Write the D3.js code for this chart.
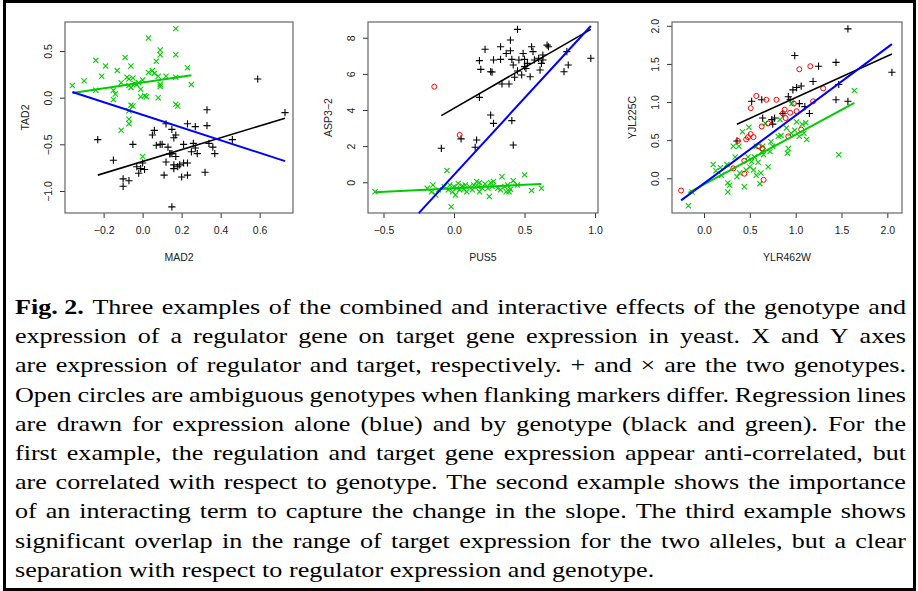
<!DOCTYPE html>
<html>
<head>
<meta charset="utf-8">
<script src="https://cdn.jsdelivr.net/npm/d3@7"></script>
<style>
  body { margin: 0; background: #fff; }
  svg { display: block; }
</style>
</head>
<body>
<svg id="fig" width="918" height="591"></svg>
<script>
// Panel 1: MAD2 vs TAD2
const p1Plus = [
  [-0.23,-0.45],[-0.15,-0.67],[-0.10,-0.95],[-0.10,-0.87],[-0.07,-0.89],[-0.05,-0.50],
  [-0.03,-0.74],[-0.02,-0.81],[-0.01,-0.76],[0.01,-0.77],[0.00,-0.70],[0.05,-0.40],
  [0.06,-0.35],[0.07,-0.51],[0.09,-0.50],[0.10,-0.50],[0.11,-0.83],[0.12,-0.69],
  [0.12,-0.28],[0.13,-0.53],[0.14,-0.60],[0.14,-0.60],[0.15,-0.60],[0.15,-0.34],
  [0.16,-0.72],[0.16,-0.76],[0.16,-0.43],[0.17,-0.40],[0.17,-0.63],[0.19,-0.72],
  [0.20,-0.85],[0.21,-0.70],[0.21,-0.50],[0.23,-0.28],[0.23,-0.83],[0.23,-0.70],
  [0.25,-0.58],[0.26,-0.49],[0.27,-0.31],[0.27,-0.54],[0.28,-0.60],[0.32,-0.80],
  [0.33,-0.30],[0.33,-0.13],[0.34,-0.49],[0.36,-0.53],[0.37,-0.60],[0.46,-0.45],
  [0.59,0.20],[0.73,-0.16],[0.15,-1.17],[0.18,-0.74]
];
const p1Cross = [
  [-0.36,0.13],[-0.30,0.18],[-0.24,0.40],[-0.24,0.08],[-0.21,0.23],[-0.19,0.34],
  [-0.15,0.08],[-0.14,0.04],[-0.15,-0.02],[-0.13,0.29],[-0.11,-0.35],[-0.11,0.16],
  [-0.09,0.43],[-0.08,0.22],[-0.07,0.20],[-0.07,0.13],[-0.06,0.11],[-0.06,0.34],
  [-0.05,-0.09],[-0.06,-0.08],[-0.07,-0.14],[-0.07,-0.23],[-0.07,-0.28],[-0.05,0.21],
  [-0.04,0.15],[-0.03,0.14],[-0.02,0.16],[-0.01,0.09],[-0.01,0.01],[0.00,0.19],
  [0.01,0.02],[0.02,0.01],[0.03,0.64],[0.03,0.27],[0.05,0.29],[0.06,0.26],
  [0.07,0.39],[0.08,0.23],[0.08,0.00],[0.09,0.46],[0.09,0.51],[0.09,0.14],
  [0.09,0.12],[0.12,0.23],[0.17,0.74],[0.17,0.46],[0.17,0.22],[0.17,-0.07],
  [0.18,-0.09],[0.23,0.32],[0.25,0.14],[0.00,-0.63]
];
const p1Circle = [];
// regression lines: [x1, y1, x2, y2]
const p1Lines = {
  green: [-0.36, 0.05, 0.25, 0.24],
  blue:  [-0.36, 0.06, 0.73, -0.68],
  black: [-0.23, -0.83, 0.73, -0.22]
};
const p1XTicks = [-0.2, 0.0, 0.2, 0.4, 0.6];
const p1YTicks = [-1.0, -0.5, 0.0, 0.5];

// Panel 2: PUS5 vs ASP3-2
const p2Plus = [
  [-0.09,1.88],[0.05,2.40],[0.16,2.34],[0.15,1.94],[0.18,4.70],[0.18,6.73],
  [0.19,6.25],[0.22,7.36],[0.26,3.72],[0.26,6.12],[0.28,6.77],[0.28,3.26],
  [0.33,6.80],[0.33,7.50],[0.34,5.44],[0.37,7.13],[0.39,5.44],[0.40,7.87],
  [0.40,7.28],[0.41,3.41],[0.41,6.80],[0.42,6.49],[0.42,2.06],[0.43,5.81],
  [0.45,8.46],[0.45,6.16],[0.46,6.77],[0.48,5.94],[0.49,7.13],[0.50,6.40],
  [0.50,6.80],[0.51,6.30],[0.52,6.58],[0.54,5.84],[0.55,7.50],[0.56,7.23],
  [0.57,6.77],[0.60,6.86],[0.61,6.21],[0.62,6.58],[0.63,6.77],[0.63,7.04],
  [0.66,7.59],[0.67,7.50],[0.78,6.12],[0.80,7.23],[0.81,6.49],[0.97,6.86],
  [0.27,6.10]
];
const p2Cross = [
  [-0.56,-0.52],[-0.19,-0.33],[-0.16,-0.52],[-0.15,-0.15],[-0.13,-0.70],[-0.11,-0.42],
  [-0.07,-0.24],[-0.05,0.65],[-0.04,-0.42],[-0.03,-0.15],[-0.02,-1.35],[-0.01,-0.52],
  [0.00,-0.24],[0.01,-0.70],[0.02,-0.33],[0.03,-0.06],[0.04,-0.42],[0.06,-0.20],
  [0.07,-0.39],[0.08,-0.15],[0.09,-0.52],[0.11,-0.24],[0.13,-0.42],[0.14,-0.15],
  [0.16,0.04],[0.17,-0.24],[0.18,-0.02],[0.20,-0.33],[0.22,-0.09],[0.24,-0.33],
  [0.25,-0.79],[0.26,-0.02],[0.27,-0.24],[0.28,0.04],[0.31,-0.33],[0.33,-0.42],
  [0.34,0.31],[0.36,-0.24],[0.37,-0.52],[0.38,-0.15],[0.40,-0.39],[0.42,0.09],
  [0.45,-0.15],[0.50,0.41],[0.55,-0.46],[0.62,-0.33],[0.18,-0.52],[0.39,-0.52]
];
const p2Circle = [[-0.14,5.29],[0.04,2.62]];
const p2Lines = {
  green: [-0.56, -0.55, 0.62, -0.09],
  blue:  [-0.25, -1.71, 0.97, 8.65],
  black: [-0.09, 3.69, 0.97, 8.46]
};
const p2XTicks = [-0.5, 0.0, 0.5, 1.0];
const p2YTicks = [0, 2, 4, 6, 8];

// Panel 3: YLR462W vs YJL225C
const p3Plus = [
  [0.36,0.49],[0.52,1.01],[0.63,1.03],[0.64,0.79],[0.74,0.77],[0.75,0.71],
  [0.77,0.79],[0.86,0.85],[0.92,1.07],[0.94,1.03],[0.97,1.16],[0.99,1.61],
  [1.01,1.19],[1.04,0.98],[1.06,1.21],[1.10,0.94],[1.15,0.85],[1.19,1.27],
  [1.25,1.47],[1.44,1.52],[1.44,1.03],[1.47,1.23],[1.57,1.01],[1.57,1.96],
  [2.05,1.39]
];
const p3Cross = [
  [-0.17,-0.36],[-0.13,-0.18],[0.10,0.18],[0.13,0.10],[0.18,0.14],[0.19,0.04],
  [0.25,0.18],[0.26,-0.06],[0.26,-0.18],[0.28,-0.09],[0.32,0.42],[0.34,0.28],
  [0.36,0.02],[0.38,0.42],[0.39,0.07],[0.42,0.61],[0.44,-0.11],[0.46,0.11],
  [0.48,0.28],[0.49,0.67],[0.50,0.15],[0.52,0.22],[0.54,0.11],[0.55,0.28],
  [0.57,0.04],[0.57,0.42],[0.59,0.21],[0.61,-0.07],[0.62,0.07],[0.63,0.35],
  [0.64,0.42],[0.65,0.31],[0.67,0.72],[0.70,0.15],[0.72,0.35],[0.73,0.48],
  [0.75,0.42],[0.81,0.55],[0.83,0.77],[0.84,0.56],[0.90,0.66],[0.91,0.33],
  [0.92,0.39],[0.95,0.59],[0.96,0.98],[0.99,0.63],[1.01,0.74],[1.04,0.55],
  [1.07,0.71],[1.09,0.59],[1.11,0.73],[1.12,0.51],[1.47,0.31],[1.64,1.15]
];
const p3Circle = [
  [-0.25,-0.16],[0.32,0.13],[0.37,0.49],[0.44,0.23],[0.44,0.06],[0.46,0.51],
  [0.48,0.54],[0.51,0.58],[0.51,0.92],[0.54,0.54],[0.57,1.08],[0.59,0.42],
  [0.63,0.68],[0.64,0.39],[0.65,-0.02],[0.68,1.03],[0.70,0.72],[0.79,1.03],
  [0.86,0.85],[0.88,0.90],[0.89,0.79],[0.92,0.55],[0.94,0.86],[0.98,0.98],
  [1.01,0.88],[1.04,1.43],[1.06,0.64],[1.16,1.47],[1.19,1.01],[1.30,1.18]
];
const p3Lines = {
  green: [-0.17, -0.19, 1.64, 0.99],
  blue:  [-0.25, -0.29, 2.05, 1.76],
  black: [0.36, 0.71, 2.05, 1.63]
};
const p3XTicks = [0.0, 0.5, 1.0, 1.5, 2.0];
const p3YTicks = [0.0, 0.5, 1.0, 1.5, 2.0];

const captionLines = [
  "Three examples of the combined and interactive effects of the genotype and",
  "expression of a regulator gene on target gene expression in yeast. X and Y axes",
  "are expression of regulator and target, respectively. + and \u00d7 are the two genotypes.",
  "Open circles are ambiguous genotypes when flanking markers differ. Regression lines",
  "are drawn for expression alone (blue) and by genotype (black and green). For the",
  "first example, the regulation and target gene expression appear anti-correlated, but",
  "are correlated with respect to genotype. The second example shows the importance",
  "of an interacting term to capture the change in the slope. The third example shows",
  "significant overlap in the range of target expression for the two alleles, but a clear",
  "separation with respect to regulator expression and genotype."
];

const svg = d3.select("#fig");
svg.append("rect").attr("width", 918).attr("height", 591).attr("fill", "#fff");
svg.append("rect")
   .attr("x", 4.5).attr("y", 1.5)
   .attr("width", 910).attr("height", 588)
   .attr("fill", "none").attr("stroke", "#000").attr("stroke-width", 3);

const green = "#00cd00";
const axisFont = "Liberation Sans, Arial, sans-serif";

const panels = [
  { plus: p1Plus, cross: p1Cross, circle: p1Circle, lines: p1Lines,
    xTicks: p1XTicks, yTicks: p1YTicks, xLab: "MAD2", yLab: "TAD2",
    left: 65, right: 293, xDom: [-0.398, 0.771], yDom: [-1.236, 0.811], fmt: d3.format(".1f") },
  { plus: p2Plus, cross: p2Cross, circle: p2Circle, lines: p2Lines,
    xTicks: p2XTicks, yTicks: p2YTicks, xLab: "PUS5", yLab: "ASP3\u22122",
    left: 368, right: 598, xDom: [-0.61, 1.021], yDom: [-1.70, 8.87], fmt: d3.format("d") },
  { plus: p3Plus, cross: p3Cross, circle: p3Circle, lines: p3Lines,
    xTicks: p3XTicks, yTicks: p3YTicks, xLab: "YLR462W", yLab: "YJL225C",
    left: 672, right: 902, xDom: [-0.349, 2.16], yDom: [-0.455, 2.05], fmt: d3.format(".1f") }
];
const plotTop = 22, plotBottom = 213;

const minus = s => s.replace("-", "\u2212");

panels.forEach((p, i) => {
  const x = d3.scaleLinear().domain(p.xDom).range([p.left, p.right]);
  const y = d3.scaleLinear().domain(p.yDom).range([plotBottom, plotTop]);
  const g = svg.append("g");

  // axes
  const xAxis = d3.axisBottom(x).tickValues(p.xTicks).tickSize(5).tickPadding(9)
                  .tickFormat(d => minus(d3.format(".1f")(d)));
  const gx = g.append("g").attr("transform", `translate(0,${plotBottom})`).call(xAxis);
  const yAxis = d3.axisLeft(y).tickValues(p.yTicks).tickSize(5)
                  .tickFormat(d => minus(p.fmt(d)));
  const gy = g.append("g").attr("transform", `translate(${p.left},0)`).call(yAxis);
  gy.selectAll(".tick text")
    .attr("x", null).attr("dy", null)
    .attr("text-anchor", "middle")
    .attr("transform", "translate(-13.5,0) rotate(-90)");
  [gx, gy].forEach(a => {
    a.select(".domain").remove();
    a.selectAll(".tick line").attr("stroke", "#333");
    a.selectAll("text").attr("font-family", axisFont).attr("font-size", 10.5).attr("fill", "#222");
  });

  // box
  g.append("rect")
   .attr("x", p.left).attr("y", plotTop)
   .attr("width", p.right - p.left).attr("height", plotBottom - plotTop)
   .attr("fill", "none").attr("stroke", "#666").attr("stroke-width", 1.2);

  // labels
  g.append("text").attr("x", (p.left + p.right) / 2).attr("y", 261)
   .attr("text-anchor", "middle").attr("font-family", axisFont).attr("font-size", 10.5)
   .attr("fill", "#222").text(p.xLab);
  g.append("text")
   .attr("transform", `translate(${p.left - 36},${(plotTop + plotBottom) / 2}) rotate(-90)`)
   .attr("text-anchor", "middle").attr("font-family", axisFont).attr("font-size", 10.5)
   .attr("fill", "#222").text(p.yLab);

  // points
  const plot = g.append("g");
  plot.selectAll(".plus").data(p.plus).enter().append("path")
      .attr("d", d => {
        const cx = x(d[0]), cy = y(d[1]), r = 3.6;
        return `M${cx - r},${cy}H${cx + r}M${cx},${cy - r}V${cy + r}`;
      })
      .attr("stroke", "#000").attr("stroke-width", 1.1);
  plot.selectAll(".cross").data(p.cross).enter().append("path")
      .attr("d", d => {
        const cx = x(d[0]), cy = y(d[1]), r = 2.6;
        return `M${cx - r},${cy - r}L${cx + r},${cy + r}M${cx - r},${cy + r}L${cx + r},${cy - r}`;
      })
      .attr("stroke", green).attr("stroke-width", 1.1);
  plot.selectAll(".circ").data(p.circle).enter().append("circle")
      .attr("cx", d => x(d[0])).attr("cy", d => y(d[1])).attr("r", 2.5)
      .attr("fill", "none").attr("stroke", "#ff0000").attr("stroke-width", 1);

  // regression lines
  const lc = { green: green, blue: "#0000ff", black: "#000" };
  const lw = { green: 2, blue: 2, black: 1.6 };
  ["green", "black", "blue"].forEach(k => {
    const l = p.lines[k];
    plot.append("line")
        .attr("x1", x(l[0])).attr("y1", y(l[1]))
        .attr("x2", x(l[2])).attr("y2", y(l[3]))
        .attr("stroke", lc[k]).attr("stroke-width", lw[k]);
  });
});

// caption, justified word by word; the serif is stretched a little to get
// closer to the wide Computer Modern face of the original
const capFont = "'Liberation Serif', 'Times New Roman', serif";
const capSize = 22;
const capLeft = 15, capRight = 906, capTop = 314, capStep = 29.2;
const lastLineWidth = 663;
const cap = svg.append("g").attr("font-family", capFont).attr("font-size", capSize).attr("fill", "#000");

const measure = (txt, bold) => {
  const t = cap.append("text").attr("font-weight", bold ? "bold" : null).text(txt);
  const w = t.node().getComputedTextLength();
  t.remove();
  return w;
};
const spaceW = measure("a a") - measure("aa");
const capWords = captionLines.map((line, i) => {
  let words = line.split(" ").map(w => ({ w, bold: false }));
  if (i === 0) words = [{ w: "Fig. 2.", bold: true }].concat(words);
  words.forEach(d => { d.width = measure(d.w, d.bold); });
  return words;
});
// stretch: match last line, but keep every justified line's gaps >= 0.9 space
let sx = lastLineWidth / (d3.sum(capWords[capWords.length - 1], d => d.width) + spaceW * (capWords[capWords.length - 1].length - 1));
capWords.slice(0, -1).forEach(words => {
  const need = d3.sum(words, d => d.width) + 0.9 * spaceW * (words.length - 1);
  sx = Math.min(sx, (capRight - capLeft) / need);
});
cap.attr("transform", `translate(${capLeft},0) scale(${sx},1)`);
const boxW = (capRight - capLeft) / sx;

capWords.forEach((words, i) => {
  const total = d3.sum(words, d => d.width);
  const last = i === capWords.length - 1;
  const gap = last ? spaceW : (boxW - total) / (words.length - 1);
  let cx = 0;
  words.forEach(d => {
    cap.append("text").attr("x", cx).attr("y", capTop + i * capStep)
       .attr("font-weight", d.bold ? "bold" : null).text(d.w);
    cx += d.width + gap;
  });
});
</script>
</body>
</html>
